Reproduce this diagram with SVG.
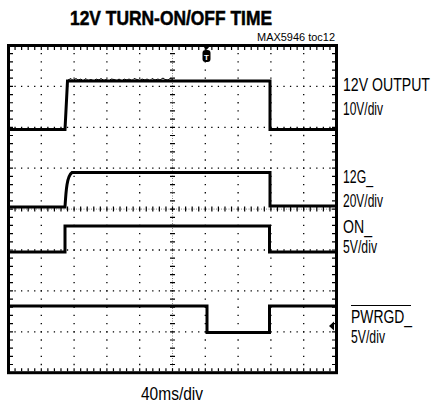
<svg xmlns="http://www.w3.org/2000/svg" width="435" height="407" viewBox="0 0 435 407">
<style>
text{font-family:"Liberation Sans",Arial,sans-serif;fill:#000}
.lbl{font-size:14px}
.gh{stroke:#000;stroke-width:1.3;stroke-dasharray:1.3 5.26;stroke-dashoffset:0.65;fill:none}
.gv{stroke:#000;stroke-width:1.3;stroke-dasharray:1.3 6.88;stroke-dashoffset:0.65;fill:none}
.tr{fill:none;stroke:#000;stroke-width:3;stroke-linejoin:miter}
.nz{fill:none;stroke:#000;stroke-width:1}
</style>
<rect width="435" height="407" fill="#fff"/>
<g id="title">
<text x="70" y="24.5" font-size="19.5" font-weight="bold" textLength="202" lengthAdjust="spacingAndGlyphs" stroke="#000" stroke-width="0.5">12V TURN-ON/OFF TIME</text>
<text x="335" y="40.5" font-size="10" text-anchor="end" textLength="78" lengthAdjust="spacingAndGlyphs">MAX5946 toc12</text>
</g>
<g id="grid">
<path class="gh" d="M8.5 86.4H336.5M8.5 127.3H336.5M8.5 168.2H336.5M8.5 250H336.5M8.5 290.9H336.5M8.5 331.8H336.5"/>
<path class="gv" d="M41.3 45.5V372.7M74.1 45.5V372.7M106.9 45.5V372.7M139.7 45.5V372.7M205.3 45.5V372.7M238.1 45.5V372.7M270.9 45.5V372.7M303.7 45.5V372.7"/>
<line x1="172.5" y1="45.5" x2="172.5" y2="372.7" stroke="#666" stroke-width="0.8" stroke-dasharray="1 1.5"/>
<line x1="8.5" y1="209.1" x2="336.5" y2="209.1" stroke="#666" stroke-width="0.8" stroke-dasharray="1 1.5"/>
<line x1="172.5" y1="45.5" x2="172.5" y2="372.7" stroke="#000" stroke-width="5" stroke-dasharray="1.2 6.98" stroke-dashoffset="0.6"/>
<line x1="8.5" y1="209.1" x2="336.5" y2="209.1" stroke="#000" stroke-width="5" stroke-dasharray="1.2 5.36" stroke-dashoffset="0.6"/>
<line x1="8.5" y1="48.5" x2="336.5" y2="48.5" stroke="#000" stroke-width="3" stroke-dasharray="1.2 5.36" stroke-dashoffset="0.6"/>
<line x1="8.5" y1="369.7" x2="336.5" y2="369.7" stroke="#000" stroke-width="3" stroke-dasharray="1.2 5.36" stroke-dashoffset="0.6"/>
<line x1="11.5" y1="45.5" x2="11.5" y2="372.7" stroke="#000" stroke-width="3" stroke-dasharray="1.2 6.98" stroke-dashoffset="0.6"/>
<line x1="333.5" y1="45.5" x2="333.5" y2="372.7" stroke="#000" stroke-width="3" stroke-dasharray="1.2 6.98" stroke-dashoffset="0.6"/>
<rect x="8.5" y="45.5" width="328" height="327.2" fill="none" stroke="#000" stroke-width="3"/>
</g>
<g id="markers">
<path d="M202.5 45.5H210.5L206.5 50Z" fill="#000"/>
<rect x="202.5" y="50" width="8" height="12" rx="3" fill="#000"/>
<text x="206.5" y="59.5" font-size="8" font-weight="bold" text-anchor="middle" style="fill:#fff">T</text>
<path d="M329 326L334 321.5V330.5Z" fill="#000"/>
</g>
<g id="traces">
<path id="ch1" class="tr" d="M9 129.5H65L67.5 81H270V129.5H336"/>
<path class="nz" d="M68 80 l3 -1.5 l2 2 l3 -2 l2 1.5 l3 -1 l2 2 l3 -2.5 l2 2 l3 -1 l3 1.5 l2 -2 l3 1 l2 -1.5 l3 2 l2 -1 l3 1.5 l2 -2 l3 0.5 l3 1 l2 -1.5 l3 2 l2 -2 l3 1 l2 -1 l3 1.5 l2 -2 l3 1 l3 1 l2 -1.5 l3 1 l2 -1 l3 1.5 l2 -2 l3 1.5 l3 -1 l2 1 l3 -2 l2 1.5 l3 0.5 l2 -1.5 l3 1 M15 130.5 l3 -1.5 l2 1.5 l3 -1 l2 1 l3 -1.5 l3 1.5 l2 -1 l3 1 l2 -1.5 l3 1.5 l2 -1 l3 1 M272 128.5 l3 1.5 l2 -1 l3 1 l2 -1.5 l3 1.5 l3 -1 l2 1 l3 -1.5 l2 1.5 l3 -1 l2 1 l3 -1 l3 1.5 l2 -1 l3 1 l2 -1.5 l3 1.5 l3 -1 l2 1"/>
<path id="ch2" class="tr" d="M9 207H65C66 190 67 176 72 172.5H270V206H336"/>
<path id="ch3" class="tr" d="M9 252H65V226H269.5V252H336"/>
<path id="ch4" class="tr" d="M9 306H207V332.5H269.5V306H336"/>
</g>
<g id="labels">
<text class="lbl" transform="translate(343 91) scale(1 1.25)" textLength="87" lengthAdjust="spacingAndGlyphs">12V OUTPUT</text>
<text class="lbl" transform="translate(343 115) scale(1 1.25)" textLength="40" lengthAdjust="spacingAndGlyphs">10V/div</text>
<text class="lbl" transform="translate(343 183) scale(1 1.25)" textLength="30" lengthAdjust="spacingAndGlyphs">12G_</text>
<text class="lbl" transform="translate(343 207) scale(1 1.25)" textLength="40" lengthAdjust="spacingAndGlyphs">20V/div</text>
<text class="lbl" transform="translate(343 233) scale(1 1.25)" textLength="29" lengthAdjust="spacingAndGlyphs">ON_</text>
<text class="lbl" transform="translate(343 253) scale(1 1.25)" textLength="34" lengthAdjust="spacingAndGlyphs">5V/div</text>
<line x1="351" y1="305.5" x2="411" y2="305.5" stroke="#000" stroke-width="1"/>
<text class="lbl" transform="translate(351 323) scale(1 1.25)" textLength="61" lengthAdjust="spacingAndGlyphs">PWRGD_</text>
<text class="lbl" transform="translate(351 343) scale(1 1.25)" textLength="34" lengthAdjust="spacingAndGlyphs">5V/div</text>
<text class="lbl" transform="translate(141 400) scale(1 1.25)" textLength="62" lengthAdjust="spacingAndGlyphs">40ms/div</text>
</g>
</svg>
